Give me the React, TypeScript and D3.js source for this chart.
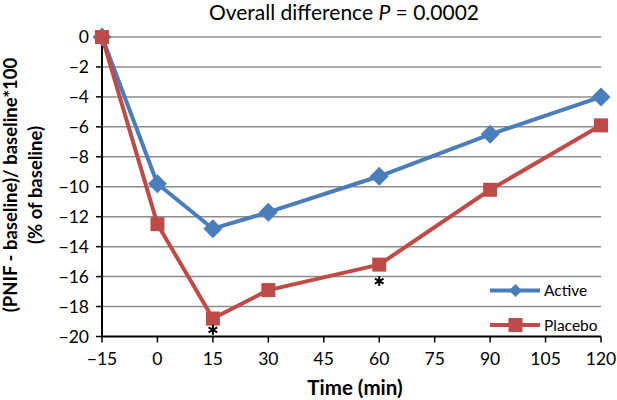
import React from "react";
import * as d3 from "d3";

const times = [-15, 0, 15, 30, 60, 90, 120];
const activeValues = [0, -9.8, -12.8, -11.7, -9.3, -6.5, -4.0];
const placeboValues = [0, -12.5, -18.8, -16.9, -15.2, -10.2, -5.9];
const xTicks = [-15, 0, 15, 30, 45, 60, 75, 90, 105, 120];
const yTicks = [0, -2, -4, -6, -8, -10, -12, -14, -16, -18, -20];
const starTimes = [15, 60];
const starValues = [-19.55, -16.3];

const W = 617, H = 400;
const FONT = "Lato, 'Open Sans', sans-serif";
const BLUE = "#4a7ebb";
const RED = "#be4b48";

const fmt = (v: number) => (v < 0 ? "\u2212" + Math.abs(v) : String(v));

export default function App() {
  const x = d3.scaleLinear().domain([-15, 120]).range([102, 601]);
  const y = d3.scaleLinear().domain([-20, 0]).range([336.5, 37]);
  const line = d3.line<number>().x((_, i) => x(times[i])).y((d) => y(d));

  const diamond = (cx: number, cy: number, r: number) =>
    `M${cx},${cy - r}L${cx + r},${cy}L${cx},${cy + r}L${cx - r},${cy}Z`;

  const star = (cx: number, cy: number, r: number) => {
    let d = "";
    for (let k = 0; k < 3; k++) {
      const a = (Math.PI / 3) * k + Math.PI / 2;
      const dx = Math.cos(a) * r, dy = Math.sin(a) * r;
      d += `M${cx - dx},${cy - dy}L${cx + dx},${cy + dy}`;
    }
    return d;
  };

  return (
    <svg width={W} height={H} style={{ position: "absolute", left: 0, top: 0, background: "#fff" }}>
      <text x={344} y={20} textAnchor="middle" fontFamily={FONT} fontSize={21}>
        Overall difference <tspan fontStyle="italic">P</tspan> = 0.0002
      </text>
      {yTicks.filter((t) => t !== -20).map((t) => (
        <line key={t} x1={x(-15)} x2={x(120)} y1={y(t)} y2={y(t)} stroke="#8c8c8c" strokeWidth={1.5} />
      ))}
      <line x1={x(-15)} x2={x(-15)} y1={y(0)} y2={y(-20)} stroke="#000" strokeWidth={2} />
      <line x1={x(-15)} x2={x(120)} y1={y(-20)} y2={y(-20)} stroke="#000" strokeWidth={2} />
      {yTicks.map((t) => (
        <g key={t}>
          <line x1={x(-15) - 6} x2={x(-15)} y1={y(t)} y2={y(t)} stroke="#000" strokeWidth={1.5} />
          <text x={89} y={y(t)} dy="0.36em" textAnchor="end" fontFamily={FONT} fontSize={17.5}>
            {fmt(t)}
          </text>
        </g>
      ))}
      {xTicks.map((t) => (
        <g key={t}>
          <line x1={x(t)} x2={x(t)} y1={y(-20)} y2={y(-20) + 6} stroke="#000" strokeWidth={1.5} />
          <text x={x(t)} y={365} textAnchor="middle" fontFamily={FONT} fontSize={17.5}>
            {fmt(t)}
          </text>
        </g>
      ))}
      <text x={355} y={395} textAnchor="middle" fontFamily={FONT} fontSize={20.5} fontWeight="bold">
        Time (min)
      </text>
      <g transform="translate(0,185) rotate(-90)">
        <text x={0} y={17} textAnchor="middle" fontFamily={FONT} fontSize={18.5} fontWeight="bold">
          (PNIF - baseline)/ baseline*100
        </text>
        <text x={0} y={42} textAnchor="middle" fontFamily={FONT} fontSize={18.5} fontWeight="bold">
          (% of baseline)
        </text>
      </g>
      <path d={line(activeValues) || ""} fill="none" stroke={BLUE} strokeWidth={4} strokeLinejoin="round" />
      {activeValues.map((v, i) => (
        <path key={i} d={diamond(x(times[i]), y(v), 9.5)} fill={BLUE} />
      ))}
      <path d={line(placeboValues) || ""} fill="none" stroke={RED} strokeWidth={4} strokeLinejoin="round" />
      {placeboValues.map((v, i) => (
        <rect key={i} x={x(times[i]) - 7} y={y(v) - 7} width={14} height={14} fill={RED} />
      ))}
      {starTimes.map((t, i) => (
        <path key={t} d={star(x(t), y(starValues[i]), 5)} stroke="#000" strokeWidth={2} />
      ))}
      <line x1={490} x2={540} y1={290.5} y2={290.5} stroke={BLUE} strokeWidth={4} />
      <path d={diamond(515.5, 290.5, 6.5)} fill={BLUE} />
      <text x={544} y={290.5} dy="0.36em" fontFamily={FONT} fontSize={15.5}>Active</text>
      <line x1={490} x2={540} y1={325} y2={325} stroke={RED} strokeWidth={4} />
      <rect x={508.5} y={318} width={14} height={14} fill={RED} />
      <text x={544} y={325} dy="0.36em" fontFamily={FONT} fontSize={15.5}>Placebo</text>
    </svg>
  );
}
